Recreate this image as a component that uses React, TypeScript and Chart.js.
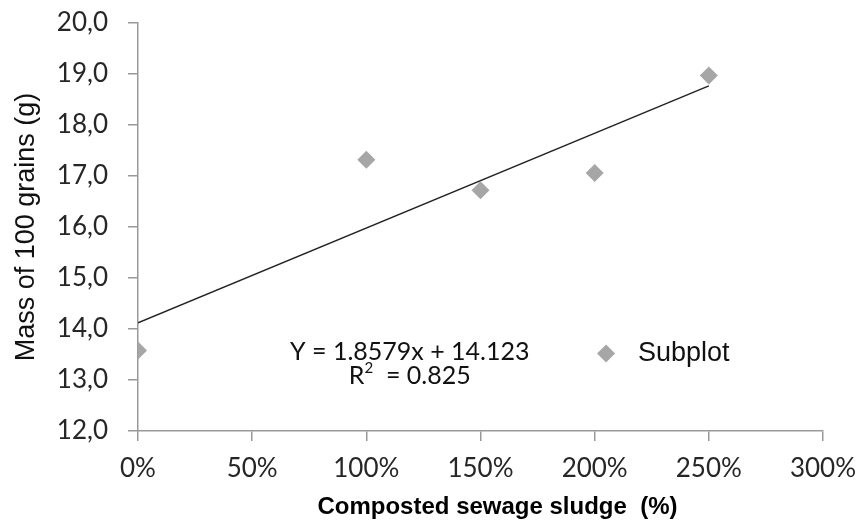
import React, { useEffect, useRef } from "react";
import { Chart, registerables } from "chart.js";

Chart.register(...registerables);

const sludgeLevels = [0, 1, 1.5, 2, 2.5];
const grainMass = [13.58, 17.32, 16.72, 17.06, 18.97];
const trendX = [0, 2.5];
const trendY = [14.123, 18.768];
const equationText = "Y = 1.8579x + 14.123";
const r2Text = "= 0.825";
const legendLabel = "Subplot";
const yTitle = "Mass of 100 grains (g)";
const xTitle = "Composted sewage sludge  (%)";

const MARKER = "#a6a6a6";
const CAL = "Lato, 'Open Sans', sans-serif";
const ARIAL = "'Liberation Sans', Arial, sans-serif";

const annotations = {
  id: "annotations",
  afterDraw(chart: any) {
    const { ctx, scales, chartArea } = chart;
    const x = scales.x;
    const y = scales.y;
    ctx.save();
    // equation
    ctx.fillStyle = "#111";
    ctx.textBaseline = "middle";
    ctx.textAlign = "center";
    ctx.font = `25px ${CAL}`;
    const ex = x.getPixelForValue(1.19);
    ctx.fillText(equationText, ex, y.getPixelForValue(13.56));
    // R^2 line
    const ry = y.getPixelForValue(13.07);
    ctx.font = `25px ${CAL}`;
    const rW = ctx.measureText("R").width;
    ctx.font = `15px ${CAL}`;
    const sW = ctx.measureText("2").width;
    ctx.font = `25px ${CAL}`;
    const restW = ctx.measureText("  " + r2Text).width;
    const total = rW + sW + restW;
    let cx = ex - total / 2;
    ctx.textAlign = "left";
    ctx.fillText("R", cx, ry);
    cx += rW;
    ctx.font = `15px ${CAL}`;
    ctx.fillText("2", cx, ry - 8);
    cx += sW;
    ctx.font = `25px ${CAL}`;
    ctx.fillText("  " + r2Text, cx, ry);
    // legend
    const lx = x.getPixelForValue(2.05);
    const ly = y.getPixelForValue(13.52);
    ctx.fillStyle = MARKER;
    ctx.beginPath();
    ctx.moveTo(lx, ly - 9);
    ctx.lineTo(lx + 9, ly);
    ctx.lineTo(lx, ly + 9);
    ctx.lineTo(lx - 9, ly);
    ctx.closePath();
    ctx.fill();
    ctx.fillStyle = "#111";
    ctx.font = `27px ${ARIAL}`;
    ctx.textAlign = "left";
    ctx.fillText(legendLabel, x.getPixelForValue(2.19), ly);
    // x axis title
    ctx.font = `bold 24px ${ARIAL}`;
    ctx.textAlign = "center";
    ctx.fillStyle = "#000";
    ctx.fillText(xTitle, (chartArea.left + chartArea.right) / 2 + 17, chart.height - 14);
    ctx.restore();
  },
};

export default function App() {
  const ref = useRef<HTMLCanvasElement>(null);
  useEffect(() => {
    document.body.style.margin = "0";
    const chart = new Chart(ref.current!, {
      type: "scatter",
      data: {
        datasets: [
          {
            label: "Trend",
            data: trendX.map((v, i) => ({ x: v, y: trendY[i] })),
            showLine: true,
            borderColor: "#222",
            borderWidth: 1.5,
            pointRadius: 0,
            order: 2,
          },
          {
            label: legendLabel,
            data: sludgeLevels.map((v, i) => ({ x: v, y: grainMass[i] })),
            pointStyle: "rectRot",
            pointRadius: 9,
            backgroundColor: MARKER,
            borderColor: MARKER,
            borderWidth: 0,
            order: 1,
          },
        ],
      },
      options: {
        animation: false,
        responsive: false,
        layout: { padding: { top: 23, right: 37, left: 10, bottom: 0 } },
        plugins: { legend: { display: false }, tooltip: { enabled: false } },
        scales: {
          x: {
            type: "linear",
            min: 0,
            max: 3,
            afterFit: (s: any) => {
              s.height = 90;
              s.paddingLeft = 0;
              s.paddingRight = 0;
            },
            border: { display: true, color: "#999", width: 1.5 },
            grid: {
              drawOnChartArea: false,
              drawTicks: true,
              tickLength: 10,
              color: "#999",
              lineWidth: 1.5,
            },
            ticks: {
              stepSize: 0.5,
              padding: 12,
              color: "#262626",
              font: { family: CAL, size: 26 },
              callback: (v: any) => Math.round(Number(v) * 100) + "%",
            },
          },
          y: {
            min: 12,
            max: 20,
            afterFit: (s: any) => {
              s.width = 128;
              s.paddingTop = 0;
              s.paddingBottom = 0;
            },
            border: { display: true, color: "#999", width: 1.5 },
            grid: {
              drawOnChartArea: false,
              drawTicks: true,
              tickLength: 10,
              color: "#999",
              lineWidth: 1.5,
            },
            ticks: {
              stepSize: 1,
              padding: 20,
              color: "#262626",
              font: { family: CAL, size: 26 },
              callback: (v: any) => Number(v).toFixed(1).replace(".", ","),
            },
            title: {
              display: true,
              text: yTitle,
              color: "#111",
              font: { family: ARIAL, size: 27 },
              padding: { top: 0, bottom: 0 },
            },
          },
        },
      },
      plugins: [annotations],
    });
    return () => chart.destroy();
  }, []);
  return (
    <div style={{ width: 860, height: 521, background: "#fff" }}>
      <canvas ref={ref} width={860} height={521} />
    </div>
  );
}
